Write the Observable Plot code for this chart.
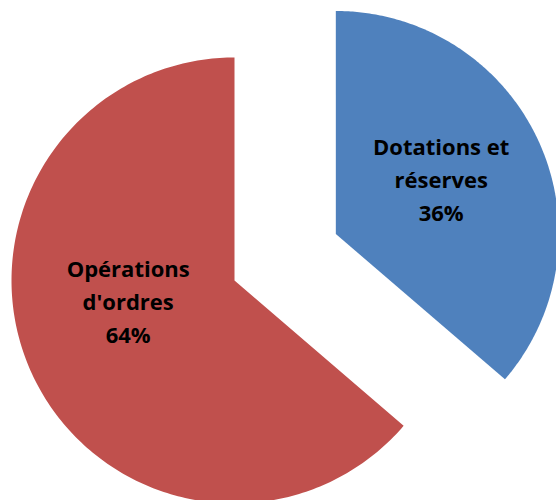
<!DOCTYPE html>
<html><head><meta charset="utf-8">
<script src="https://cdn.jsdelivr.net/npm/d3@7"></script>
<script src="https://cdn.jsdelivr.net/npm/@observablehq/plot@0.6"></script>
<style>body{margin:0;background:#fff} svg{display:block} text{font-variant-ligatures:none}</style>
</head><body><div id="chart"></div>
<script>
// ---- data ----
const categories = ["Dotations et réserves", "Opérations d'ordres"];
const labelLines = ["Dotations et\nréserves", "Opérations\nd'ordres"];
const values = [36.3, 63.7];
const colors = ["#4F81BD", "#C0504D"];

// ---- layout ----
const W = 556, H = 500, R = 223, CX = 234, CY = 280;
const explode = [0.5, 0];          // radial offset, in radii
const labelFrac = 0.5;             // label distance from slice center, in radii
const labelShift = [[4, -10.5], [-5, -27.5]]; // px tweaks
const FONT = 22, LINE_PX = 33;

const total = d3.sum(values);
const arcs = d3.pie().sort(null).value(d => d)(values);

const slices = arcs.map((a, i) => {
  const mid = (a.startAngle + a.endAngle) / 2;
  const ox = explode[i] * Math.sin(mid), oy = explode[i] * Math.cos(mid);
  const pts = [{x: ox, y: oy}];
  const n = 240;
  for (let k = 0; k <= n; k++) {
    const t = a.startAngle + (a.endAngle - a.startAngle) * k / n;
    pts.push({x: ox + Math.sin(t), y: oy + Math.cos(t)});
  }
  pts.push({x: ox, y: oy});
  const lx = ox + labelFrac * Math.sin(mid) + labelShift[i][0] / R;
  const ly = oy + labelFrac * Math.cos(mid) - labelShift[i][1] / R;
  const pct = Math.round(values[i] / total * 100) + "%";
  return {pts, color: colors[i], label: {x: lx, y: ly, text: labelLines[i] + "\n" + pct}};
});

const chart = Plot.plot({
  width: W, height: H,
  margin: 0,
  x: {domain: [-CX / R, (W - CX) / R], range: [0, W], axis: null},
  y: {domain: [(CY - H) / R, CY / R], range: [H, 0], axis: null},
  style: {fontFamily: "'Open Sans', sans-serif", background: "white"},
  marks: [
    ...slices.map(s => Plot.line(s.pts, {x: "x", y: "y", fill: s.color, stroke: "none", curve: "linear"})),
    Plot.text(slices.map(s => s.label), {
      x: "x", y: "y", text: "text",
      fontSize: FONT, fontWeight: "bold", fill: "black",
      lineHeight: LINE_PX / FONT, textAnchor: "middle"
    })
  ]
});
document.getElementById("chart").appendChild(chart);
</script>
</body></html>
